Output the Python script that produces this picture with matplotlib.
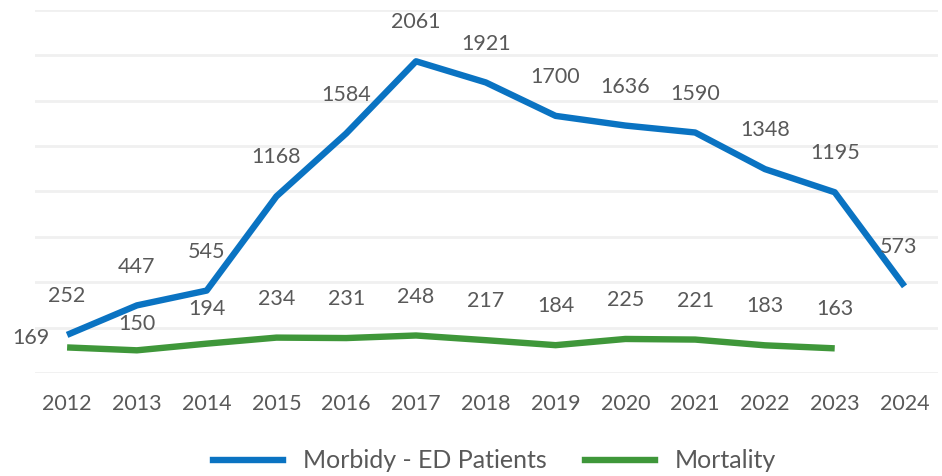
import numpy as np
import matplotlib.pyplot as plt
from matplotlib.lines import Line2D

years = ['2012', '2013', '2014', '2015', '2016', '2017', '2018',
         '2019', '2020', '2021', '2022', '2023', '2024']
morbidity = [252, 447, 545, 1168, 1584, 2061, 1921, 1700, 1636, 1590, 1348, 1195, 573]
mortality = [169, 150, 194, 234, 231, 248, 217, 184, 225, 221, 183, 163]

blue = '#0a73c2'
green = '#3f973a'
grey = '#595959'

plt.rcParams['font.family'] = ['Lato', 'DejaVu Sans']

fig = plt.figure(figsize=(9.42, 4.76), dpi=100)
ax = fig.add_axes([35 / 942, 1 - 373 / 476, 903 / 942, 363 / 476])

x = np.arange(len(years))
ax.plot(x, morbidity, color=blue, lw=4.6, solid_capstyle='butt', zorder=3)
ax.plot(x[:len(mortality)], mortality, color=green, lw=4.6, solid_capstyle='butt', zorder=3)

fs = 15.5
# data labels
for i, v in enumerate(morbidity):
    dx = -4 if i == len(morbidity) - 1 else 0
    ax.annotate(str(v), (x[i], v), xytext=(dx, 28), textcoords='offset points',
                ha='center', va='center', fontsize=fs, color=grey)
for i, v in enumerate(mortality):
    if i == 0:
        ax.annotate(str(v), (x[i], v), xytext=(-26, 7), textcoords='offset points',
                    ha='center', va='center', fontsize=fs, color=grey)
        continue
    dy = 19 if i == 1 else (25 if i == 2 else 28)
    ax.annotate(str(v), (x[i], v), xytext=(0, dy), textcoords='offset points',
                ha='center', va='center', fontsize=fs, color=grey)

ax.set_xlim(-0.46, len(years) - 0.52)
ax.set_ylim(0, 2400)
ax.set_yticks(np.arange(0, 2401, 300))
ax.set_yticklabels([])
ax.grid(axis='y', color='#f0f0f0', lw=2)
ax.set_axisbelow(True)
ax.set_xticks(x)
ax.set_xticklabels(years, fontsize=fs, color=grey)
ax.tick_params(axis='both', length=0, pad=15)
for s in ax.spines.values():
    s.set_visible(False)

handles = [Line2D([], [], color=blue, lw=4.6), Line2D([], [], color=green, lw=4.6)]
fig.legend(handles, ['Morbidy - ED Patients', 'Mortality'], loc='center',
           bbox_to_anchor=(0.525, 1 - 461 / 476), ncol=2, frameon=False,
           fontsize=18, labelcolor=grey, handlelength=2.8, columnspacing=1.5,
           handletextpad=0.8)

fig.savefig('out.png', dpi=100)
